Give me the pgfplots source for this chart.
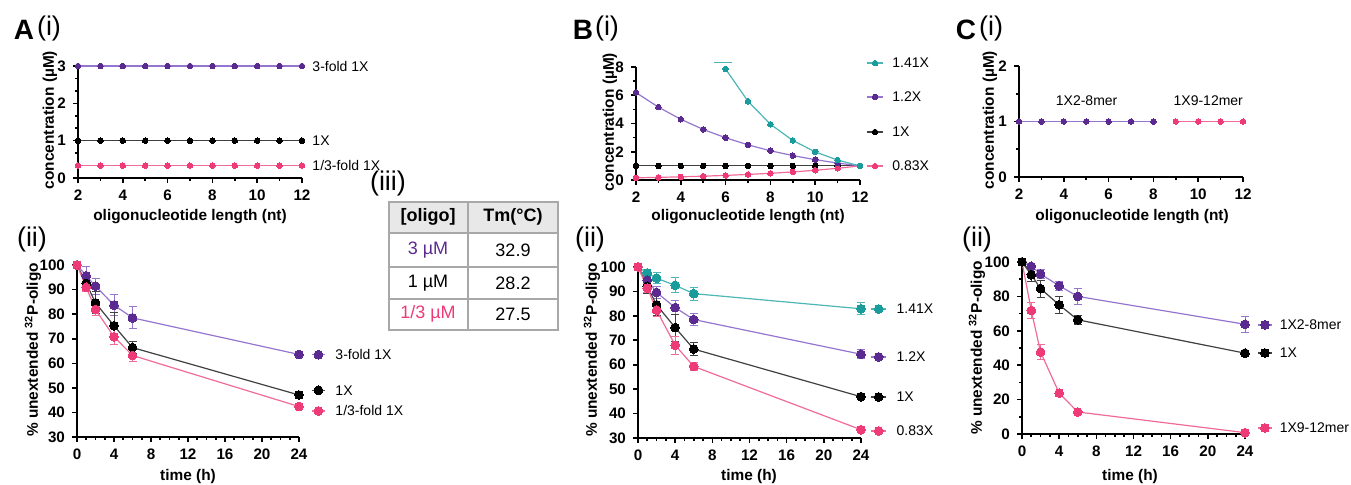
\documentclass[border=0pt]{standalone}
\usepackage{fontspec}
\setmainfont{Liberation Sans}
\usepackage{pgfplots}
\pgfplotsset{compat=1.18}

\definecolor{pmark}{HTML}{5A2A90}
\definecolor{pline}{HTML}{9575CD}
\definecolor{rmark}{HTML}{EE3A76}
\definecolor{rline}{HTML}{F06A9A}
\definecolor{tmark}{HTML}{1B9C9C}
\definecolor{tline}{HTML}{4DB6B6}
\definecolor{kline}{HTML}{404040}
\definecolor{hdr}{HTML}{E8E8E8}
\definecolor{tblgray}{HTML}{A8A8A8}

\newcommand\tickf{\fontsize{7.6}{8}\selectfont\bfseries}
\newcommand\labf{\fontsize{7.7}{8}\selectfont\bfseries}
\newcommand\legf{\fontsize{7}{8}\selectfont}
\newcommand\tabf{\fontsize{9}{10}\selectfont}
\newcommand\romf{\fontsize{13.5}{14}\selectfont}

\tikzset{lt/.style={anchor=west, inner sep=0pt, font=\legf}}

\pgfplotsset{
  gp/.style={scale only axis, anchor=south west, axis lines=left,
    axis line style={-, line width=1pt}, tick align=outside,
    major tick length=2.5pt, minor tick length=1.5pt,
    every tick/.style={line width=0.8pt, black}, clip=false,
    enlargelimits=false, tick label style={font=\tickf},
    /pgf/number format/assume math mode=true},
  conc/.style={gp, xmin=2, xmax=12, xtick={2,4,...,12}, minor xtick={3,5,...,11}},
  tim/.style={gp, xmin=0, xmax=24, xtick={0,4,...,24}, minor xtick={1,2,3,5,6,7,9,10,11,13,14,15,17,18,19,21,22,23}},
  ser/.style 2 args={draw=#1, line width=0.6pt, mark=*, mark options={draw=#2, fill=#2, line width=0pt}},
  sm/.style={mark size=1.4pt},
  bg/.style={mark size=2.2pt},
  eb/.style={error bars/.cd, y dir=both, y explicit,
    error bar style={draw=#1, line width=0.5pt},
    error mark options={rotate=90, draw=#1, mark size=2pt, line width=0.5pt}},
  lg/.style={mark indices={2}},
}

\begin{document}
\begin{tikzpicture}
\useasboundingbox (0pt,0pt) rectangle (675.5pt,-242pt);

% ---------- A(i)
\begin{axis}[conc, at={(39pt,-89pt)}, width=112pt, height=56pt,
  ymin=0, ymax=3, ytick={0,1,2,3}, minor y tick num=2]
\addplot[ser={rline}{rmark}, sm] coordinates {(2,0.333)(3,0.333)(4,0.333)(5,0.333)(6,0.333)(7,0.333)(8,0.333)(9,0.333)(10,0.333)(11,0.333)(12,0.333)};
\addplot[ser={kline}{black}, sm] coordinates {(2,1)(3,1)(4,1)(5,1)(6,1)(7,1)(8,1)(9,1)(10,1)(11,1)(12,1)};
\addplot[ser={pline}{pmark}, sm] coordinates {(2,3)(3,3)(4,3)(5,3)(6,3)(7,3)(8,3)(9,3)(10,3)(11,3)(12,3)};
\node[lt] at (axis cs:12.45,3) {3-fold 1X};
\node[lt] at (axis cs:12.45,1) {1X};
\node[lt] at (axis cs:12.45,0.333) {1/3-fold 1X};
\end{axis}

% ---------- A(ii)
\begin{axis}[tim, at={(38.5pt,-218.5pt)}, width=111pt, height=86pt,
  ymin=30, ymax=100, ytick={30,40,...,100}]
\addplot[ser={pline}{pmark}, bg, eb=pline] coordinates {(0,100)+-(0,0) (1,95.6)+-(0,3.6) (2,91.4)+-(0,3.3) (4,83.7)+-(0,4.3) (6,78.5)+-(0,4.5) (24,63.6)+-(0,0.5)};
\addplot[ser={kline}{black}, bg, eb=kline] coordinates {(0,100)+-(0,0) (1,92.5)+-(0,2.5) (2,84.6)+-(0,4.5) (4,75.3)+-(0,5.2) (6,66.4)+-(0,2.6) (24,47.1)+-(0,0.5)};
\addplot[ser={rline}{rmark}, bg, eb=rline] coordinates {(0,100)+-(0,0) (1,90.9)+-(0,1.5) (2,81.9)+-(0,2.5) (4,70.8)+-(0,3.2) (6,63.2)+-(0,2.6) (24,42.4)+-(0,1.2)};
\addplot[ser={pline}{pmark}, bg, lg] coordinates {(25.4,63.5)(26.1,63.5)(26.8,63.5)};
\addplot[ser={kline}{black}, bg, lg] coordinates {(25.4,49.0)(26.1,49.0)(26.8,49.0)};
\addplot[ser={rline}{rmark}, bg, lg] coordinates {(25.4,40.6)(26.1,40.6)(26.8,40.6)};
\node[lt] at (axis cs:27.9,63.5) {3-fold 1X};
\node[lt] at (axis cs:27.9,49.0) {1X};
\node[lt] at (axis cs:27.9,40.6) {1/3-fold 1X};
\end{axis}

% ---------- B(i)
\begin{axis}[conc, at={(318pt,-90pt)}, width=112pt, height=56.5pt,
  ymin=0, ymax=8, ytick={0,2,...,8}, minor y tick num=1]
\addplot[ser={kline}{black}, sm] coordinates {(2,1)(3,1)(4,1)(5,1)(6,1)(7,1)(8,1)(9,1)(10,1)(11,1)(12,1)};
\addplot[ser={rline}{rmark}, sm] coordinates {(2,0.155)(3,0.187)(4,0.225)(5,0.271)(6,0.327)(7,0.394)(8,0.475)(9,0.572)(10,0.689)(11,0.83)(12,1)};
\addplot[ser={pline}{pmark}, sm] coordinates {(2,6.19)(3,5.16)(4,4.30)(5,3.58)(6,2.99)(7,2.49)(8,2.07)(9,1.73)(10,1.44)(11,1.2)(12,1)};
\addplot[ser={tline}{tmark}, sm] coordinates {(6,7.86)(7,5.57)(8,3.95)(9,2.80)(10,1.99)(11,1.41)(12,1)};
\addplot[draw=tline, line width=0.6pt] coordinates {(5.48,8.3)(6.29,8.3)};
\addplot[ser={tline}{tmark}, sm, lg] coordinates {(12.31,8.28)(12.67,8.28)(13.04,8.28)};
\addplot[ser={pline}{pmark}, sm, lg] coordinates {(12.31,5.88)(12.67,5.88)(13.04,5.88)};
\addplot[ser={kline}{black}, sm, lg] coordinates {(12.31,3.40)(12.67,3.40)(13.04,3.40)};
\addplot[ser={rline}{rmark}, sm, lg] coordinates {(12.31,0.99)(12.67,0.99)(13.04,0.99)};
\node[lt] at (axis cs:13.43,8.28) {1.41X};
\node[lt] at (axis cs:13.43,5.88) {1.2X};
\node[lt] at (axis cs:13.43,3.40) {1X};
\node[lt] at (axis cs:13.43,0.99) {0.83X};
\end{axis}

% ---------- B(ii)
\begin{axis}[tim, at={(319pt,-219pt)}, width=111.5pt, height=85.5pt,
  ymin=30, ymax=100, ytick={30,40,...,100}]
\addplot[ser={tline}{tmark}, bg, eb=tline] coordinates {(0,100)+-(0,0) (1,97.6)+-(0,1.5) (2,95.4)+-(0,2.2) (4,92.5)+-(0,3) (6,89.1)+-(0,2.7) (24,82.9)+-(0,2.5)};
\addplot[ser={pline}{pmark}, bg, eb=pline] coordinates {(0,100)+-(0,0) (1,94.6)+-(0,2) (2,89.6)+-(0,2.5) (4,83.4)+-(0,2.8) (6,78.5)+-(0,2.5) (24,64.3)+-(0,1.8)};
\addplot[ser={kline}{black}, bg, eb=kline] coordinates {(0,100)+-(0,0) (1,92.1)+-(0,3) (2,84.5)+-(0,4.2) (4,75.2)+-(0,5.5) (6,66.4)+-(0,2.6) (24,46.9)+-(0,0.5)};
\addplot[ser={rline}{rmark}, bg, eb=rline] coordinates {(0,100)+-(0,0) (1,91.4)+-(0,2) (2,82.3)+-(0,2.5) (4,68.0)+-(0,3.7) (6,59.3)+-(0,1.8) (24,33.4)+-(0,1.2)};
\addplot[ser={tline}{tmark}, bg, lg] coordinates {(25.1,82.8)(25.9,82.8)(26.7,82.8)};
\addplot[ser={pline}{pmark}, bg, lg] coordinates {(25.1,63.2)(25.9,63.2)(26.7,63.2)};
\addplot[ser={kline}{black}, bg, lg] coordinates {(25.1,46.8)(25.9,46.8)(26.7,46.8)};
\addplot[ser={rline}{rmark}, bg, lg] coordinates {(25.1,32.9)(25.9,32.9)(26.7,32.9)};
\node[lt] at (axis cs:27.8,82.8) {1.41X};
\node[lt] at (axis cs:27.8,63.2) {1.2X};
\node[lt] at (axis cs:27.8,46.8) {1X};
\node[lt] at (axis cs:27.8,32.9) {0.83X};
\end{axis}

% ---------- C(i)
\begin{axis}[conc, at={(509.5pt,-88.5pt)}, width=112pt, height=55.5pt,
  ymin=0, ymax=2, ytick={0,1,2}, minor y tick num=1]
\addplot[ser={pline}{pmark}, sm] coordinates {(2,1)(3,1)(4,1)(5,1)(6,1)(7,1)(8,1)};
\addplot[ser={rline}{rmark}, sm] coordinates {(9,1)(10,1)(11,1)(12,1)};
\node[font=\legf] at (axis cs:5.02,1.38) {1X2-8mer};
\node[font=\legf] at (axis cs:10.45,1.38) {1X9-12mer};
\end{axis}

% ---------- C(ii)
\begin{axis}[tim, at={(511pt,-217pt)}, width=111.5pt, height=86pt,
  ymin=0, ymax=100, ytick={0,20,...,100}, minor y tick num=1]
\addplot[ser={rline}{rmark}, bg, eb=rline] coordinates {(0,100)+-(0,0) (1,71.8)+-(0,4.8) (2,47.6)+-(0,4.5) (4,23.8)+-(0,1) (6,12.8)+-(0,0.8) (24,0.8)+-(0,0.5)};
\addplot[ser={pline}{pmark}, bg, eb=pline] coordinates {(0,100)+-(0,0) (1,97.5)+-(0,1.5) (2,93.0)+-(0,2.5) (4,86.2)+-(0,2.5) (6,80.0)+-(0,4.5) (24,63.8)+-(0,4.5)};
\addplot[ser={kline}{black}, bg, eb=kline] coordinates {(0,100)+-(0,0) (1,92.6)+-(0,4) (2,84.5)+-(0,5) (4,75.1)+-(0,5) (6,66.4)+-(0,2.5) (24,47.0)+-(0,0.5)};
\addplot[ser={pline}{pmark}, bg, lg] coordinates {(25.4,63.4)(26.15,63.4)(26.9,63.4)};
\addplot[ser={kline}{black}, bg, lg] coordinates {(25.4,47.1)(26.15,47.1)(26.9,47.1)};
\addplot[ser={rline}{rmark}, bg, lg] coordinates {(25.4,3.5)(26.15,3.5)(26.9,3.5)};
\node[lt] at (axis cs:27.7,63.4) {1X2-8mer};
\node[lt] at (axis cs:27.7,47.1) {1X};
\node[lt] at (axis cs:27.7,3.5) {1X9-12mer};
\end{axis}

% ---------- annotations in pixel units
\begin{scope}[x=0.5pt, y=-0.5pt]
\node[font=\fontsize{14}{14}\selectfont\bfseries] at (24,30) {A};
\node[font=\romf] at (49,29) {(i)};
\node[font=\fontsize{14}{14}\selectfont\bfseries] at (583,30) {B};
\node[font=\romf] at (607,29) {(i)};
\node[font=\fontsize{14}{14}\selectfont\bfseries] at (966,30) {C};
\node[font=\romf] at (991,29) {(i)};
\node[font=\romf] at (32,240) {(ii)};
\node[font=\romf] at (590,240) {(ii)};
\node[font=\romf] at (977,240) {(ii)};
\node[font=\romf] at (388,184) {(iii)};

\node[font=\labf, rotate=90] at (50,120) {concentration (µM)};
\node[font=\labf, rotate=90] at (610,122) {concentration (µM)};
\node[font=\labf, rotate=90] at (990,120) {concentration (µM)};
\node[font=\labf] at (190,217) {oligonucleotide length (nt)};
\node[font=\labf] at (748,217) {oligonucleotide length (nt)};
\node[font=\labf] at (1132,217) {oligonucleotide length (nt)};
\node[font=\labf, rotate=90] at (33,350) {\% unextended \textsuperscript{32}P-oligo};
\node[font=\labf, rotate=90] at (592,350) {\% unextended \textsuperscript{32}P-oligo};
\node[font=\labf, rotate=90] at (977,348) {\% unextended \textsuperscript{32}P-oligo};
\node[font=\labf] at (188,477) {time (h)};
\node[font=\labf] at (749,477) {time (h)};
\node[font=\labf] at (1130,477) {time (h)};

% table (iii)
\fill[hdr] (389,202) rectangle (558,233);
\draw[tblgray, line width=1pt] (389,202) rectangle (558,330);
\draw[tblgray, line width=1pt] (389,233) -- (558,233) (389,267) -- (558,267) (389,299) -- (558,299) (468,202) -- (468,330);
\node[font=\tabf\bfseries] at (428,217) {[oligo]};
\node[font=\tabf\bfseries] at (513,217) {Tm(°C)};
\node[font=\tabf, text=pmark] at (428,250) {3 µM};
\node[font=\tabf] at (428,283) {1 µM};
\node[font=\tabf, text=rmark] at (428,314) {1/3 µM};
\node[font=\tabf] at (513,250) {32.9};
\node[font=\tabf] at (513,283) {28.2};
\node[font=\tabf] at (513,314) {27.5};
\end{scope}
\end{tikzpicture}
\end{document}
